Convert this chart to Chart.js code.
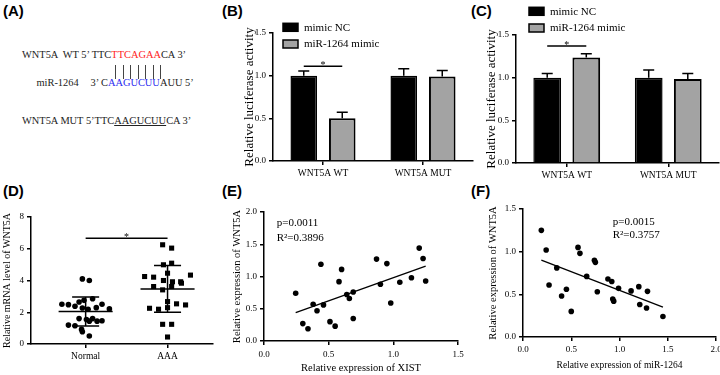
<!DOCTYPE html>
<html>
<head>
<meta charset="utf-8">
<script src="https://cdn.jsdelivr.net/npm/chart.js@4.4.1/dist/chart.umd.min.js"></script>
<style>
  body { margin: 0; width: 720px; height: 375px; position: relative; overflow: hidden; background: #fff; }
  canvas { position: absolute; }
  .tag { position: absolute; font: bold 15px "Liberation Sans", Arial, sans-serif; color: #000; }
  .seq { position: absolute; font: 10.4px "Liberation Serif", "Times New Roman", serif; line-height: 14px; white-space: pre; color: #222; }
  .pair { position: absolute; top: 65px; width: 1px; height: 14px; background: #444; }
</style>
</head>
<body>
<div class="tag" style="left:3px;top:2px">(A)</div>
<div class="tag" style="left:222px;top:2px">(B)</div>
<div class="tag" style="left:471px;top:2px">(C)</div>
<div class="tag" style="left:3px;top:182px">(D)</div>
<div class="tag" style="left:222px;top:182px">(E)</div>
<div class="tag" style="left:471px;top:182px">(F)</div>

<!-- (A) sequences -->
<div class="seq" style="left:22px;top:48px">WNT5A  WT 5’ TTC<span style="color:#f22">TTCAGAA</span>CA 3’</div>
<div class="pair" style="left:115px"></div>
<div class="pair" style="left:122.5px"></div>
<div class="pair" style="left:130px"></div>
<div class="pair" style="left:137.5px"></div>
<div class="pair" style="left:145px"></div>
<div class="pair" style="left:152.5px"></div>
<div class="pair" style="left:160px"></div>
<div class="seq" style="left:36.5px;top:76px">miR-1264</div>
<div class="seq" style="left:90.5px;top:76px">3’ C<span style="color:#2b2bf0">AAGUCUU</span>AUU 5’</div>
<div class="seq" style="left:22px;top:114px">WNT5A MUT 5’TTC<span style="text-decoration:underline">AAGUCUU</span>CA 3’</div>

<canvas id="chartB" width="233" height="170" style="left:242px;top:20px"></canvas>
<canvas id="chartC" width="240" height="190" style="left:484px;top:0px"></canvas>
<canvas id="chartD" width="222" height="170" style="left:0px;top:205px"></canvas>
<canvas id="chartE" width="240" height="175" style="left:230px;top:200px"></canvas>
<canvas id="chartF" width="240" height="178" style="left:486px;top:197px"></canvas>

<script>
// ---- data ----
const groupLabels = ['WNT5A WT', 'WNT5A MUT'];
const seriesNames = ['mimic NC', 'miR-1264 mimic'];

// (B) luciferase, wild-type / mutant
const bNC = [1.0, 1.0];
const bNCErr = [0.055, 0.08];
const bMimic = [0.50, 0.99];
const bMimicErr = [0.07, 0.07];
const bSigLevel = 1.11;

// (C)
const cNC = [1.0, 1.0];
const cNCErr = [0.05, 0.09];
const cMimic = [1.235, 0.985];
const cMimicErr = [0.045, 0.065];
const cSigLevel = 1.37;

// (D) mRNA level, scatter with jitter (offset from the group position)
const dGroups = ['Normal', 'AAA'];
const dNormalY = [4.10, 4.00, 2.50, 2.48, 2.38, 2.65, 2.75, 2.85, 2.50, 2.21, 2.29, 2.27, 2.19,
                  1.60, 1.54, 1.60, 1.44, 1.46, 1.44, 1.19, 1.15, 0.92, 0.77, 0.50];
const dNormalDx = [-0.04, 0.045, -0.29, -0.21, -0.13, -0.08, -0.02, 0.085, 0.20, 0.29, 0.13, -0.04, 0.03,
                   -0.08, 0.01, 0.085, 0.14, 0.20, 0.045, -0.21, -0.13, -0.05, -0.04, 0.045];
const dAAAY = [6.25, 6.04, 4.99, 5.09, 4.46, 4.25, 4.21, 4.34, 4.00, 3.92, 3.92, 3.62,
               3.41, 3.62, 3.83, 2.67, 2.53, 2.46, 2.25, 2.19, 2.29, 1.24, 1.24, 0.44];
const dAAADx = [-0.06, 0.05, -0.05, 0.05, 0, -0.28, -0.17, 0.28, -0.05, 0.06, 0.16, -0.17,
                -0.06, 0.05, 0.17, 0, 0.11, 0.22, -0.22, -0.11, 0, -0.06, 0.05, 0];
const dMeans = [2.05, 3.47];
const dSDs = [0.91, 1.47];
const dSigLevel = 6.66;

// (E) XIST vs WNT5A
const eX = [0.245, 0.30, 0.34, 0.38, 0.41, 0.44, 0.46, 0.51, 0.55, 0.58, 0.60, 0.64,
            0.66, 0.69, 0.69, 0.87, 0.90, 0.95, 0.98, 1.05, 1.14, 1.20, 1.23, 1.25];
const eY = [0.74, 0.27, 0.19, 0.57, 0.47, 1.19, 0.56, 0.30, 0.23, 0.92, 1.11, 0.72,
            0.66, 0.76, 0.35, 1.27, 0.88, 1.20, 0.59, 0.91, 0.98, 1.44, 1.28, 0.93];
const eFitX = [0.245, 1.25];
const eFitY = [0.44, 1.16];
const eStats = ['p=0.0011', 'R²=0.3896'];

// (F) miR-1264 vs WNT5A
const fX = [0.19, 0.24, 0.27, 0.35, 0.40, 0.45, 0.50, 0.57, 0.59, 0.66, 0.74, 0.75,
            0.77, 0.88, 0.92, 0.93, 0.94, 0.99, 1.12, 1.20, 1.21, 1.28, 1.29, 1.45];
const fY = [1.25, 1.02, 0.61, 0.81, 0.48, 0.56, 0.30, 1.05, 0.98, 0.71, 0.90, 0.875,
            0.53, 0.68, 0.65, 0.445, 0.42, 0.57, 0.54, 0.59, 0.38, 0.34, 0.535, 0.24];
const fFitX = [0.19, 1.45];
const fFitY = [0.90, 0.35];
const fStats = ['p=0.0015', 'R²=0.3757'];

// ---- defaults ----
const SERIF = '"Liberation Serif", "Times New Roman", serif';
Chart.defaults.font.family = SERIF;
Chart.defaults.color = '#000';
Chart.defaults.animation = false;
Chart.defaults.responsive = false;
Chart.defaults.devicePixelRatio = 1;
Chart.defaults.events = [];
Chart.defaults.plugins.legend.display = false;
Chart.defaults.plugins.tooltip.enabled = false;

const axisBorder = { display: true, color: '#000', width: 1.5 };
const tickMarks = { display: true, drawOnChartArea: false, drawTicks: true, tickLength: 4, color: '#000', lineWidth: 1.5, offset: false };

function valueAxis(o) {
  return {
    type: 'linear', min: o.min, max: o.max,
    border: axisBorder, grid: tickMarks,
    ticks: { stepSize: o.step, padding: o.pad || 3, font: { size: o.tickSize }, callback: o.fmt || (v => v.toFixed(1)) },
    title: o.title
      ? { display: true, text: o.title, font: { size: o.titleSize }, padding: o.titlePad || { top: 0, bottom: 0 } }
      : { display: false },
    afterFit: o.fit
  };
}

// ---- plugins ----
const boxLegend = {
  id: 'boxLegend',
  afterDraw(chart, args, o) {
    const { ctx, chartArea } = chart;
    ctx.save();
    chart.data.datasets.forEach((ds, i) => {
      const x = chartArea.left + o.x, y = chartArea.top + o.y + i * o.gap;
      ctx.fillStyle = ds.backgroundColor;
      ctx.fillRect(x, y, 15, 8);
      ctx.strokeStyle = '#000';
      ctx.lineWidth = 1.5;
      ctx.strokeRect(x, y, 15, 8);
      ctx.fillStyle = '#000';
      ctx.font = '11px ' + SERIF;
      ctx.textBaseline = 'middle';
      ctx.fillText(ds.label, x + 21, y + 4.5);
    });
    ctx.restore();
  }
};

const errorBars = {
  id: 'errorBars',
  afterDatasetsDraw(chart) {
    const { ctx } = chart, ys = chart.scales.y;
    ctx.save();
    ctx.strokeStyle = '#000';
    ctx.lineWidth = 1.5;
    chart.data.datasets.forEach((ds, i) => {
      chart.getDatasetMeta(i).data.forEach((bar, j) => {
        const yTop = ys.getPixelForValue(ds.data[j] + ds.errors[j]);
        ctx.beginPath();
        ctx.moveTo(bar.x, bar.y);
        ctx.lineTo(bar.x, yTop);
        ctx.moveTo(bar.x - 5.5, yTop);
        ctx.lineTo(bar.x + 5.5, yTop);
        ctx.stroke();
      });
    });
    ctx.restore();
  }
};

const sigMark = {
  id: 'sigMark',
  afterDatasetsDraw(chart, args, o) {
    const { ctx } = chart, xs = chart.scales.x, ys = chart.scales.y;
    let x1, x2;
    if (o.useBars) {
      x1 = chart.getDatasetMeta(0).data[o.at].x;
      x2 = chart.getDatasetMeta(1).data[o.at].x;
    } else {
      x1 = xs.getPixelForValue(o.from);
      x2 = xs.getPixelForValue(o.to);
    }
    const y = ys.getPixelForValue(o.value);
    ctx.save();
    ctx.strokeStyle = '#000';
    ctx.lineWidth = 1.5;
    ctx.beginPath();
    ctx.moveTo(x1, y);
    ctx.lineTo(x2, y);
    ctx.stroke();
    ctx.fillStyle = '#000';
    ctx.font = '10px ' + SERIF;
    ctx.textAlign = 'center';
    ctx.textBaseline = 'alphabetic';
    ctx.fillText('*', (x1 + x2) / 2, y + 1.5);
    ctx.restore();
  }
};

const meanSd = {
  id: 'meanSd',
  afterDatasetsDraw(chart, args, o) {
    const { ctx } = chart, xs = chart.scales.x, ys = chart.scales.y;
    const seg = (xa, ya, xb, yb) => {
      ctx.moveTo(xs.getPixelForValue(xa), ys.getPixelForValue(ya));
      ctx.lineTo(xs.getPixelForValue(xb), ys.getPixelForValue(yb));
    };
    ctx.save();
    ctx.strokeStyle = '#000';
    ctx.lineWidth = 1.5;
    ctx.beginPath();
    dMeans.forEach((m, i) => {
      const c = i + 1, s = dSDs[i];
      seg(c - o.half, m, c + o.half, m);
      seg(c - o.cap, m + s, c + o.cap, m + s);
      seg(c - o.cap, m - s, c + o.cap, m - s);
      seg(c, m - s, c, m + s);
    });
    ctx.stroke();
    ctx.restore();
  }
};

const statNote = {
  id: 'statNote',
  afterDraw(chart, args, o) {
    const { ctx, chartArea } = chart;
    ctx.save();
    ctx.fillStyle = '#000';
    ctx.font = o.size + 'px ' + SERIF;
    ctx.textBaseline = 'middle';
    o.lines.forEach((t, i) => ctx.fillText(t, chartArea.left + o.x, chartArea.top + o.y + i * o.gap));
    ctx.restore();
  }
};

// ---- (B) and (C) bar charts ----
function barChart(id, nc, ncErr, mimic, mimicErr, sig, lay) {
  new Chart(document.getElementById(id), {
    type: 'bar',
    data: {
      labels: groupLabels,
      datasets: [
        { label: seriesNames[0], data: nc, errors: ncErr, backgroundColor: '#000', borderColor: '#000', borderWidth: 1.5 },
        { label: seriesNames[1], data: mimic, errors: mimicErr, backgroundColor: '#a3a3a3', borderColor: '#000', borderWidth: 2 }
      ]
    },
    options: {
      layout: { padding: { top: lay.top, right: lay.right, left: 0, bottom: 0 } },
      datasets: { bar: { categoryPercentage: lay.cat, barPercentage: lay.bar } },
      scales: {
        x: {
          offset: true, border: axisBorder, grid: tickMarks,
          ticks: { padding: 3, font: { size: 9.5 }, maxRotation: 0 },
          afterFit: s => { s.height = lay.xh; }
        },
        y: valueAxis({ min: 0, max: 1.5, step: 0.5, tickSize: 9, title: 'Relative luciferase activity', titleSize: 13,
                       fit: s => { s.width = lay.yw; } })
      },
      plugins: {
        boxLegend: lay.legend,
        sigMark: { useBars: true, at: 0, value: sig }
      }
    },
    plugins: [errorBars, sigMark, boxLegend]
  });
}

barChart('chartB', bNC, bNCErr, bMimic, bMimicErr, bSigLevel,
  { top: 13, right: 2, xh: 29, yw: 31, cat: 0.77, bar: 0.69, legend: { x: 10, y: -9.7, gap: 16.7 } });
barChart('chartC', cNC, cNCErr, cMimic, cMimicErr, cSigLevel,
  { top: 35, right: 5, xh: 27, yw: 32, cat: 0.77, bar: 0.71, legend: { x: 13, y: -27.7, gap: 16.7 } });

// ---- (D) group scatter ----
new Chart(document.getElementById('chartD'), {
  type: 'scatter',
  data: {
    datasets: [
      { label: dGroups[0], data: dNormalY.map((y, i) => ({ x: 1 + dNormalDx[i], y })),
        pointStyle: 'circle', pointRadius: 2.8, backgroundColor: '#000', borderColor: '#000', borderWidth: 0 },
      { label: dGroups[1], data: dAAAY.map((y, i) => ({ x: 2 + dAAADx[i], y })),
        pointStyle: 'rect', pointRadius: 3.6, backgroundColor: '#000', borderColor: '#000', borderWidth: 0 }
    ]
  },
  options: {
    layout: { padding: { top: 12, right: 9, left: 0, bottom: 0 } },
    scales: {
      x: {
        type: 'linear', min: 0.333, max: 2.555, border: axisBorder, grid: tickMarks,
        afterBuildTicks: s => { s.ticks = dGroups.map((g, i) => ({ value: i + 1 })); },
        ticks: { padding: 3, font: { size: 9.5 }, callback: v => dGroups[v - 1] },
        afterFit: s => { s.height = 31; }
      },
      y: valueAxis({ min: 0, max: 8, step: 2, tickSize: 9, fmt: v => String(v), title: 'Relative mRNA level of WNT5A',
                     titleSize: 10, titlePad: { top: 1, bottom: 0 }, fit: s => { s.width = 31; } })
    },
    plugins: {
      meanSd: { half: 0.33, cap: 0.165 },
      sigMark: { from: 1, to: 2, value: dSigLevel }
    }
  },
  plugins: [meanSd, sigMark]
});

// ---- (E) and (F) correlation scatter ----
function corrChart(id, xs, ys, fitX, fitY, stats, lay) {
  new Chart(document.getElementById(id), {
    type: 'scatter',
    data: {
      datasets: [
        { data: xs.map((x, i) => ({ x, y: ys[i] })), pointRadius: 2.8, backgroundColor: '#000', borderWidth: 0 },
        { type: 'line', data: fitX.map((x, i) => ({ x, y: fitY[i] })), borderColor: '#000', borderWidth: 1.3, pointRadius: 0, fill: false }
      ]
    },
    options: {
      layout: { padding: { top: lay.top, right: lay.right, left: 0, bottom: 0 } },
      scales: {
        x: valueAxis({ min: 0, max: lay.xmax, step: 0.5, tickSize: 9, pad: lay.xpad, title: lay.xtitle, titleSize: lay.xtitleSize,
                       titlePad: { top: 0, bottom: lay.xtitleBottom }, fit: s => { s.height = lay.xh; } }),
        y: valueAxis({ min: 0, max: lay.ymax, step: 0.5, tickSize: 9, title: 'Relative expression of WNT5A', titleSize: 10.5,
                       titlePad: { top: 1, bottom: 0 }, fit: s => { s.width = lay.yw; } })
      },
      plugins: { statNote: { lines: stats, x: lay.noteX, y: lay.noteY, gap: lay.noteGap, size: 11 } }
    },
    plugins: [statNote]
  });
}

corrChart('chartE', eX, eY, eFitX, eFitY, eStats,
  { top: 12, right: 12, xh: 34, yw: 34, xmax: 1.5, ymax: 2.0, xpad: 4, xtitle: 'Relative expression of XIST', xtitleSize: 10.5,
    xtitleBottom: 0, noteX: 12.7, noteY: 11.3, noteGap: 15 });
corrChart('chartF', fX, fY, fFitX, fFitY, fStats,
  { top: 12, right: 10, xh: 38, yw: 37, xmax: 2.0, ymax: 1.5, xpad: 3, xtitle: 'Relative expression of miR-1264', xtitleSize: 9.5,
    xtitleBottom: 4, noteX: 89.7, noteY: 12.7, noteGap: 13.3 });
</script>
</body>
</html>
